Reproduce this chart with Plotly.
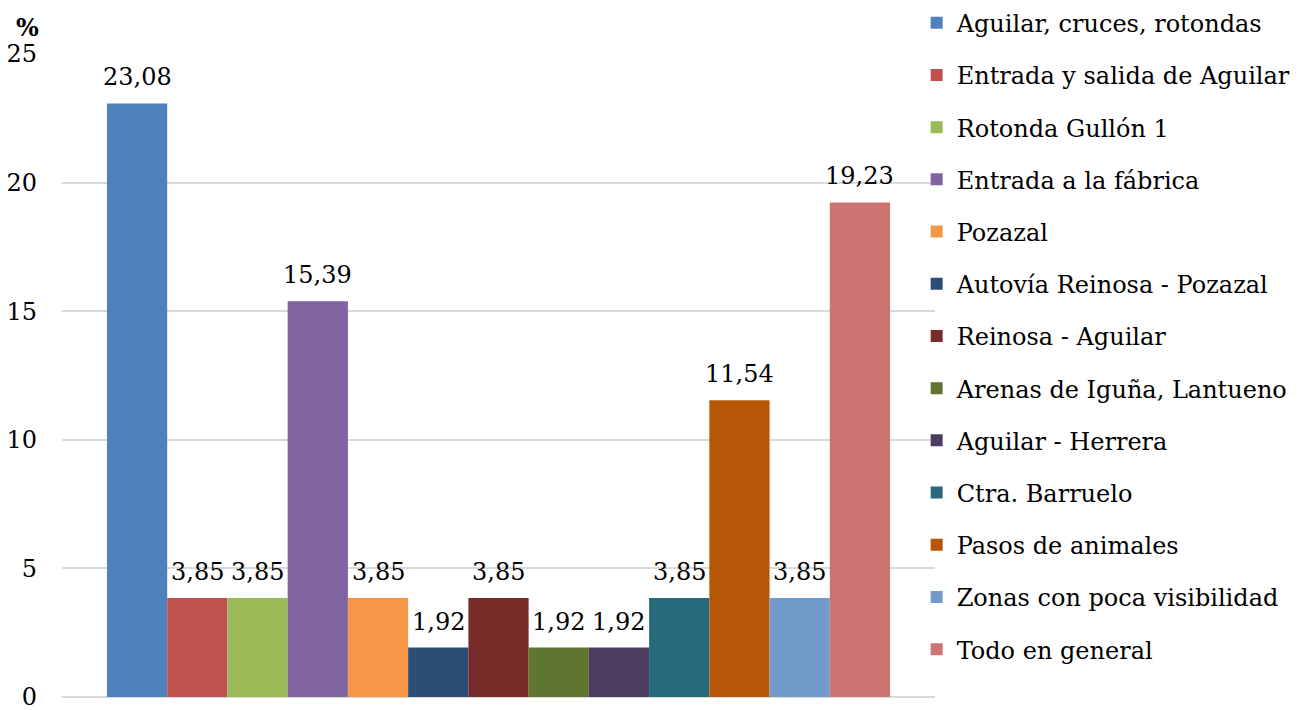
import plotly.graph_objects as go

# Categories and their percentages
categories = [
    "Aguilar, cruces, rotondas",
    "Entrada y salida de Aguilar",
    "Rotonda Gullón 1",
    "Entrada a la fábrica",
    "Pozazal",
    "Autovía Reinosa - Pozazal",
    "Reinosa - Aguilar",
    "Arenas de Iguña, Lantueno",
    "Aguilar - Herrera",
    "Ctra. Barruelo",
    "Pasos de animales",
    "Zonas con poca visibilidad",
    "Todo en general",
]
values = [23.08, 3.85, 3.85, 15.39, 3.85, 1.92, 3.85, 1.92, 1.92, 3.85, 11.54, 3.85, 19.23]
colors = [
    "#4F81BD", "#C0504D", "#9BBB59", "#8064A2", "#F79646", "#2C4D75", "#772C2A",
    "#5F7530", "#4D3B62", "#276A7C", "#B65708", "#729ACA", "#CD7371",
]
y_ticks = [0, 5, 10, 15, 20, 25]

FONT = "DejaVu Serif"
SIZE = 24
BARGAP = 0.103

fig = go.Figure()
for i, (name, val, col) in enumerate(zip(categories, values, colors)):
    fig.add_trace(go.Bar(
        x=[""],
        y=[val],
        name=name,
        legendgroup=f"g{i}",
        marker=dict(color=col, line=dict(width=0)),
        hovertemplate=f"{name}: %{{y}}<extra></extra>",
    ))

# value labels above each bar of the group (group slot width follows the bar gap)
n = len(values)
slot = (1 - BARGAP) / n
annotations = []
for i, val in enumerate(values):
    annotations.append(dict(
        x=(i - (n - 1) / 2) * slot, y=val, xref="x", yref="y",
        text=f"{val:.2f}".replace(".", ","),
        showarrow=False, xanchor="center", yanchor="bottom", yshift=10,
        font=dict(family=FONT, size=SIZE, color="black"),
    ))
annotations.append(dict(
    text="<b>%</b>", xref="paper", yref="paper",
    x=-0.039, y=1.0, xanchor="center", yanchor="bottom", yshift=10,
    showarrow=False, font=dict(family=FONT, size=SIZE, color="black"),
))

fig.update_layout(
    width=1298,
    height=710,
    margin=dict(l=62, r=363, t=54, b=13, autoexpand=False),
    paper_bgcolor="white",
    plot_bgcolor="white",
    barmode="group",
    bargap=BARGAP,
    bargroupgap=0,
    separators=",.",
    font=dict(family=FONT, size=SIZE, color="black"),
    showlegend=True,
    legend=dict(
        x=0.979, xanchor="left",
        y=1.083, yanchor="top",
        font=dict(family=FONT, size=SIZE, color="black"),
        tracegroupgap=18,
        itemwidth=30,
        maxheight=1,
        bgcolor="rgba(0,0,0,0)",
    ),
    xaxis=dict(showticklabels=False, showgrid=False, zeroline=False, showline=False, ticks=""),
    yaxis=dict(
        range=[0, 25],
        tickvals=y_ticks,
        showgrid=True,
        gridcolor="#D9D9D9",
        gridwidth=2,
        zeroline=True,
        zerolinecolor="#D9D9D9",
        zerolinewidth=2,
        showline=False,
        ticks="",
        ticklabelstandoff=24,
        ticklabeloverflow="allow",
        automargin=False,
        tickfont=dict(family=FONT, size=SIZE, color="black"),
    ),
    annotations=annotations,
)

fig.write_html("out.html")
